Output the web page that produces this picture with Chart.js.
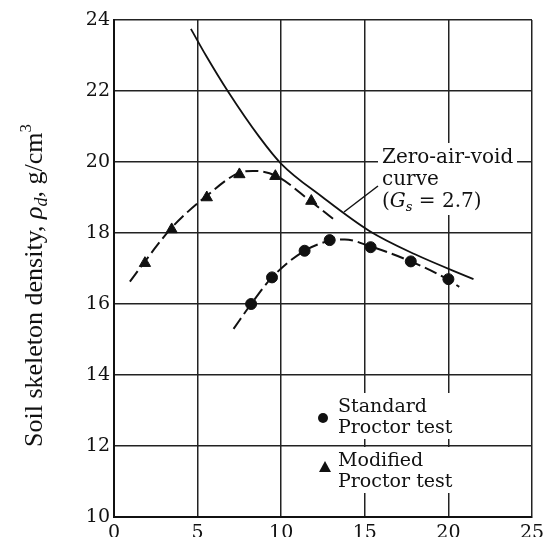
<!DOCTYPE html>
<html>
<head>
<meta charset="utf-8">
<script src="https://cdn.jsdelivr.net/npm/chart.js@4.4.1/dist/chart.umd.min.js"></script>
<style>
  html, body { margin: 0; padding: 0; background: #fff; overflow: hidden; }
  #wrap { width: 544px; height: 537px; }
</style>
</head>
<body>
<div id="wrap"><canvas id="chart" width="544" height="537"></canvas></div>
<script>
// tick values
const xTicks = [0, 5, 10, 15, 20, 25];
const yTicks = [10, 12, 14, 16, 18, 20, 22, 24];

// zero-air-void curve (Gs = 2.7)
const zavW   = [4.6, 5.5, 6.8, 8.7, 10.0, 12.5, 15.3, 18.0, 21.5];
const zavRho = [23.75, 23.0, 22.0, 20.7, 19.95, 19.0, 18.05, 17.4, 16.7];

// modified Proctor test
const modW   = [1.85, 3.45, 5.55, 7.5, 9.65, 11.8];
const modRho = [17.15, 18.1, 19.0, 19.65, 19.6, 18.9];
const modCurveW   = [0.95, 1.85, 3.45, 5.55, 7.5, 8.3, 9.65, 11.8, 13.1];
const modCurveRho = [16.63, 17.2, 18.15, 19.05, 19.7, 19.75, 19.62, 18.88, 18.4];

// standard Proctor test
const stdW   = [8.2, 9.45, 11.4, 12.9, 15.35, 17.75, 20.0];
const stdRho = [16.0, 16.75, 17.5, 17.8, 17.6, 17.2, 16.7];
const stdCurveW   = [7.15, 8.2, 9.45, 11.4, 12.9, 13.8, 15.35, 17.75, 20.0, 20.65];
const stdCurveRho = [15.3, 16.0, 16.75, 17.5, 17.78, 17.82, 17.62, 17.2, 16.68, 16.48];

const pts = (xs, ys) => xs.map((x, i) => ({ x, y: ys[i] }));

const SERIF = "'DejaVu Serif', serif";
const TIMES = "'Liberation Serif', 'Times New Roman', serif";

// draws a row of text pieces with their own fonts / vertical shifts
function drawRuns(ctx, x, y, runs) {
  let cx = x;
  runs.forEach(r => {
    ctx.font = r.font;
    ctx.fillText(r.t, cx, y + (r.dy || 0));
    cx += ctx.measureText(r.t).width;
  });
}

/* =========================
   ANNOTATIONS
========================= */
const annotations = {
  id: "annotations",
  afterDatasetsDraw(chart) {
    const ctx = chart.ctx;
    ctx.save();

    // white boxes behind texts
    ctx.fillStyle = "#fff";
    ctx.fillRect(378, 143, 139, 72);
    ctx.fillRect(332, 393, 130, 46);
    ctx.fillRect(332, 447, 130, 46);

    ctx.fillStyle = "#111";
    ctx.textAlign = "left";
    ctx.textBaseline = "alphabetic";

    // zero-air-void label
    const f = "20px " + SERIF;
    drawRuns(ctx, 382, 163, [{ t: "Zero-air-void", font: f }]);
    drawRuns(ctx, 382, 185, [{ t: "curve", font: f }]);
    drawRuns(ctx, 382, 207, [
      { t: "(", font: f },
      { t: "G", font: "italic " + f },
      { t: "s", font: "italic 13px " + SERIF, dy: 4 },
      { t: " = 2.7)", font: f }
    ]);

    ctx.strokeStyle = "#111";
    ctx.lineWidth = 1.5;
    ctx.beginPath();
    ctx.moveTo(378, 186);
    ctx.lineTo(344, 212);
    ctx.stroke();

    // legend
    const lf = "19px " + SERIF;
    drawRuns(ctx, 338, 412, [{ t: "Standard", font: lf }]);
    drawRuns(ctx, 338, 433, [{ t: "Proctor test", font: lf }]);
    drawRuns(ctx, 338, 466, [{ t: "Modified", font: lf }]);
    drawRuns(ctx, 338, 487, [{ t: "Proctor test", font: lf }]);

    ctx.beginPath();
    ctx.arc(323, 418, 5, 0, Math.PI * 2);
    ctx.fill();
    ctx.beginPath();
    ctx.moveTo(325, 461);
    ctx.lineTo(331, 472);
    ctx.lineTo(319, 472);
    ctx.closePath();
    ctx.fill();

    // y axis title
    ctx.translate(42, 447);
    ctx.rotate(-Math.PI / 2);
    const tf = "26px " + TIMES;
    drawRuns(ctx, 0, 0, [
      { t: "Soil skeleton density, ", font: tf },
      { t: "ρ", font: "italic " + tf },
      { t: "d", font: "italic 18px " + TIMES, dy: 5 },
      { t: ", g/cm", font: tf },
      { t: "3", font: "17px " + TIMES, dy: -11 }
    ]);

    ctx.restore();
  }
};

new Chart(document.getElementById("chart"), {
  type: "scatter",
  data: {
    datasets: [
      {
        data: pts(zavW, zavRho),
        showLine: true,
        borderColor: "#111",
        borderWidth: 1.8,
        pointRadius: 0,
        cubicInterpolationMode: "monotone"
      },
      {
        data: pts(modCurveW, modCurveRho),
        showLine: true,
        borderColor: "#111",
        borderWidth: 2,
        borderDash: [13, 5],
        pointRadius: 0,
        cubicInterpolationMode: "monotone"
      },
      {
        data: pts(stdCurveW, stdCurveRho),
        showLine: true,
        borderColor: "#111",
        borderWidth: 2,
        borderDash: [13, 5],
        pointRadius: 0,
        cubicInterpolationMode: "monotone"
      },
      {
        data: pts(modW, modRho),
        pointStyle: "triangle",
        pointRadius: 6.5,
        backgroundColor: "#111",
        borderColor: "#111",
        borderWidth: 1
      },
      {
        data: pts(stdW, stdRho),
        pointStyle: "circle",
        pointRadius: 5.5,
        backgroundColor: "#111",
        borderColor: "#111",
        borderWidth: 1
      }
    ]
  },
  options: {
    responsive: false,
    animation: false,
    layout: { padding: { top: 20, right: 12, left: 0, bottom: 0 } },
    plugins: {
      legend: { display: false },
      tooltip: { enabled: false }
    },
    scales: {
      x: {
        type: "linear",
        min: 0,
        max: 25,
        afterBuildTicks: s => { s.ticks = xTicks.map(v => ({ value: v })); },
        afterFit: s => { s.height = 20; s.paddingRight = 0; s.paddingLeft = 0; },
        ticks: { color: "#111", padding: 5, font: { family: SERIF, size: 19 } },
        grid: { color: "#222", lineWidth: 1.5, drawTicks: false },
        border: { color: "#111", width: 2 }
      },
      y: {
        min: 10,
        max: 24,
        afterBuildTicks: s => { s.ticks = yTicks.map(v => ({ value: v })); },
        afterFit: s => { s.width = 114; },
        ticks: { color: "#111", padding: 4, font: { family: SERIF, size: 19 } },
        grid: { color: "#222", lineWidth: 1.5, drawTicks: false },
        border: { color: "#111", width: 2 }
      }
    }
  },
  plugins: [annotations]
});
</script>
</body>
</html>
